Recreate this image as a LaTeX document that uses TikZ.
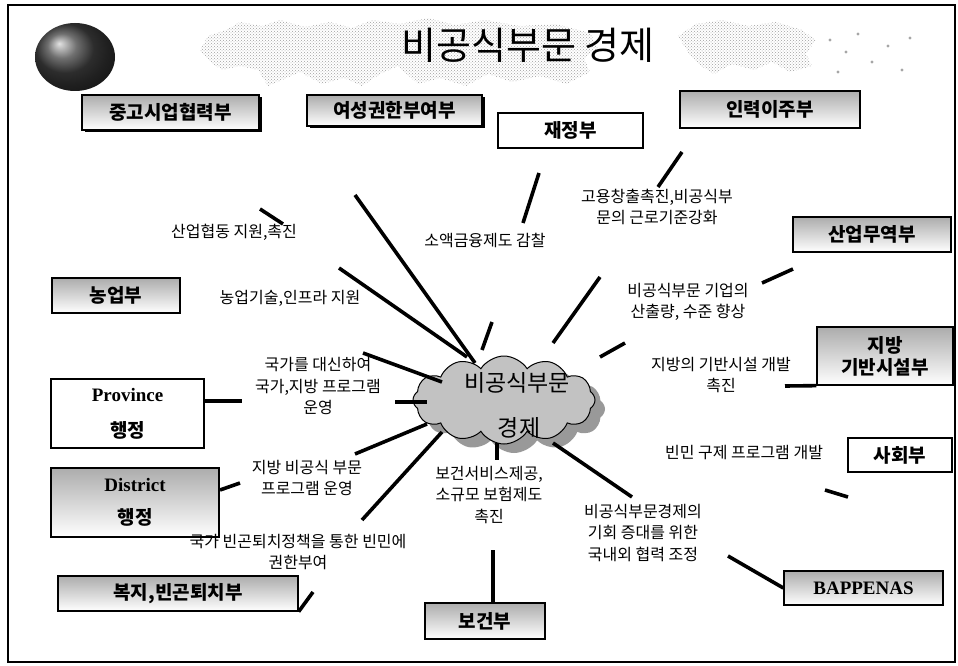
\documentclass[tikz,border=0pt]{standalone}
\usepackage{fontspec}
\setmainfont{Liberation Serif}
\newfontfamily\kr{Noto Sans CJK KR}
\usetikzlibrary{shapes.symbols,shadows,patterns}

\begin{document}
\begin{tikzpicture}[x=1pt,y=-1pt,
  conn/.style={line width=3.6pt},
  lbl/.style={font=\kr\fontsize{16}{21.5}\selectfont, align=center, inner sep=0pt},
  deptbox/.style={draw, line width=1.3pt, inner sep=0pt, align=center,
    font=\kr\bfseries\fontsize{19}{24}\selectfont},
  shaded/.style={deptbox, top color=gray!65, bottom color=white},
  halfshaded/.style={deptbox, top color=gray!65, middle color=gray!35, bottom color=white},
  boxshadow/.style={drop shadow={shadow xshift=2.5pt, shadow yshift=-2.5pt, fill=black, opacity=1}},
  mapfill/.style={pattern=crosshatch dots, pattern color=gray!75, draw=none},
]
\useasboundingbox (0,0) rectangle (958,666);
\fill[white] (0,0) rectangle (958,666);

% outer frame
\draw[line width=2.5pt] (8,5) rectangle (955,662);

% halftone world map behind the title
\path[mapfill] (200,50) -- (208,36) -- (226,30) -- (240,22) -- (262,26) -- (280,20)
  -- (305,27) -- (330,22) -- (352,28) -- (372,20) -- (400,24) -- (428,18) -- (455,25)
  -- (485,20) -- (520,26) -- (556,24) -- (590,33) -- (598,48) -- (584,58) -- (590,72)
  -- (566,84) -- (540,76) -- (512,82) -- (488,74) -- (466,86) -- (440,78) -- (418,84)
  -- (398,66) -- (380,74) -- (362,86) -- (344,78) -- (322,84) -- (300,72) -- (282,80)
  -- (268,86) -- (258,70) -- (240,66) -- (222,70) -- (210,62) -- cycle;
\path[mapfill] (678,36) -- (696,24) -- (722,20) -- (748,26) -- (776,22) -- (802,30)
  -- (816,40) -- (806,54) -- (812,66) -- (790,72) -- (772,62) -- (754,70) -- (732,64)
  -- (714,74) -- (698,64) -- (688,52) -- cycle;
\foreach \p in {(830,40),(846,52),(858,34),(872,62),(888,46),(902,70),(910,38),(838,72)}
  \fill[gray!70] \p circle (1.6pt);

% globe
\shade[ball color=black!75] (75,57) ellipse [x radius=40pt, y radius=34pt];

% title
\node[font=\kr\fontsize{38}{40}\selectfont, inner sep=0pt] (title) at (528,45) {비공식부문 경제};

% central cloud with its shadow
\node[cloud, cloud puffs=12, cloud puff arc=115, aspect=2.1, minimum width=182pt,
  minimum height=88pt, inner sep=0pt, fill=gray!80, draw=none] (cloudshadow) at (514,409) {};
\node[cloud, cloud puffs=12, cloud puff arc=115, aspect=2.1, minimum width=182pt,
  minimum height=88pt, inner sep=0pt, fill=gray!48, draw=black, line width=1pt] (cloud) at (504,400) {};
\node[font=\kr\fontsize{23}{26}\selectfont, inner sep=0pt] (cloudtop) at (517,383) {비공식부문};
\node[font=\kr\fontsize{23}{26}\selectfont, inner sep=0pt] (cloudbot) at (519,428) {경제};

% ministries and administrations
\node[shaded, boxshadow, minimum width=177pt, minimum height=35pt] (jung) at (170.5,112.5) {중고시업협력부};
\node[shaded, boxshadow, minimum width=175pt, minimum height=31pt] (yeo) at (394.5,110.5) {여성권한부여부};
\node[deptbox, fill=white, minimum width=145pt, minimum height=35pt] (jae) at (570.5,130.5) {재정부};
\node[shaded, line width=2.6pt, minimum width=180pt, minimum height=37pt] (inr) at (770,109.5) {인력이주부};
\node[shaded, minimum width=158pt, minimum height=35pt] (sanup) at (872,234.5) {산업무역부};
\node[shaded, minimum width=136pt, minimum height=58pt, font=\kr\bfseries\fontsize{19}{22}\selectfont] (jibang) at (885,356) {지방\\기반시설부};
\node[deptbox, fill=white, minimum width=104pt, minimum height=34pt] (sahoe) at (900,455) {사회부};
\node[shaded, minimum width=159pt, minimum height=34pt, font=\bfseries\fontsize{19}{24}\selectfont] (bapp) at (863.5,588) {BAPPENAS};
\node[shaded, minimum width=120pt, minimum height=36pt] (bogeon) at (485,621) {보건부};
\node[shaded, minimum width=240pt, minimum height=35pt] (bokji) at (178,593.5) {복지,빈곤퇴치부};
\node[halfshaded, minimum width=168pt, minimum height=69pt] (district) at (135,502.5)
  {{\bfseries\fontsize{19}{24}\selectfont\rmfamily District}\\[9pt]행정};
\node[deptbox, fill=white, minimum width=153pt, minimum height=69pt] (province) at (127.5,413.5)
  {{\bfseries\fontsize{19}{24}\selectfont\rmfamily Province}\\[12pt]행정};
\node[shaded, minimum width=128pt, minimum height=35pt] (nong) at (116,295.5) {농업부};

% roles
\node[lbl] (t1) at (234,232) {산업협동 지원,촉진};
\node[lbl] (t2) at (290,298) {농업기술,인프라 지원};
\node[lbl] (t3) at (318,386) {국가를 대신하여\\국가,지방 프로그램\\운영};
\node[lbl] (t4) at (485,240) {소액금융제도 감찰};
\node[lbl] (t5) at (657,207) {고용창출촉진,비공식부\\문의 근로기준강화};
\node[lbl] (t6) at (688,302) {비공식부문 기업의\\산출량, 수준 향상};
\node[lbl] (t7) at (721,375) {지방의 기반시설 개발\\촉진};
\node[lbl] (t8) at (744,453) {빈민 구제 프로그램 개발};
\node[lbl] (t9) at (307,478) {지방 비공식 부문\\프로그램 운영};
\node[lbl] (t10) at (298,552) {국가 빈곤퇴치정책을 통한 빈민에\\권한부여};
\node[lbl] (t11) at (489,495) {보건서비스제공,\\소규모 보험제도\\촉진};
\node[lbl] (t12) at (643,533) {비공식부문경제의\\기회 증대를 위한\\국내외 협력 조정};

% connector end points
\coordinate (a1) at (260,209);  \coordinate (b1) at (283,224);
\coordinate (a2) at (355,195);  \coordinate (b2) at (475,363);
\coordinate (a3) at (339,268);  \coordinate (b3) at (467,357);
\coordinate (a4) at (363,353);  \coordinate (b4) at (442,382);
\coordinate (b5) at (242,401);
\coordinate (a6) at (395,402);  \coordinate (b6) at (427,402);
\coordinate (a7) at (355,454);  \coordinate (b7) at (427,424);
\coordinate (a8) at (220,490);  \coordinate (b8) at (240,483);
\coordinate (a9) at (362,520);  \coordinate (b9) at (442,432);
\coordinate (b10) at (313,592);
\coordinate (a11) at (539,173); \coordinate (b11) at (523,223);
\coordinate (a12) at (482,350); \coordinate (b12) at (492,322);
\coordinate (a13) at (682,152); \coordinate (b13) at (658,187);
\coordinate (a14) at (600,277); \coordinate (b14) at (553,343);
\coordinate (a15) at (762,283); \coordinate (b15) at (793,269);
\coordinate (a16) at (600,357); \coordinate (b16) at (625,343);
\coordinate (a17) at (785,386);
\coordinate (a18) at (825,490); \coordinate (b18) at (848,497);
\coordinate (a19) at (553,443); \coordinate (b19) at (632,497);
\coordinate (a20) at (728,556);
\coordinate (a21) at (497,443); \coordinate (b21) at (497,460);
\coordinate (a22) at (493,550);

% connectors
\draw[conn] (a1) -- (b1);
\draw[conn] (a2) -- (b2);
\draw[conn] (a3) -- (b3);
\draw[conn] (a4) -- (b4);
\draw[conn] (province.east |- b5) -- (b5);
\draw[conn] (a6) -- (b6);
\draw[conn] (a7) -- (b7);
\draw[conn] (a8) -- (b8);
\draw[conn] (a9) -- (b9);
\draw[conn] (bokji.south east) -- (b10);
\draw[conn] (a11) -- (b11);
\draw[conn] (a12) -- (b12);
\draw[conn] (a13) -- (b13);
\draw[conn] (a14) -- (b14);
\draw[conn] (a15) -- (b15);
\draw[conn] (a16) -- (b16);
\draw[conn] (jibang.south west) -- (a17);
\draw[conn] (a18) -- (b18);
\draw[conn] (a19) -- (b19);
\draw[conn] (a20) -- (bapp.west);
\draw[conn] (a21) -- (b21);
\draw[conn] (a22) -- (bogeon.north -| a22);
\end{tikzpicture}
\end{document}
